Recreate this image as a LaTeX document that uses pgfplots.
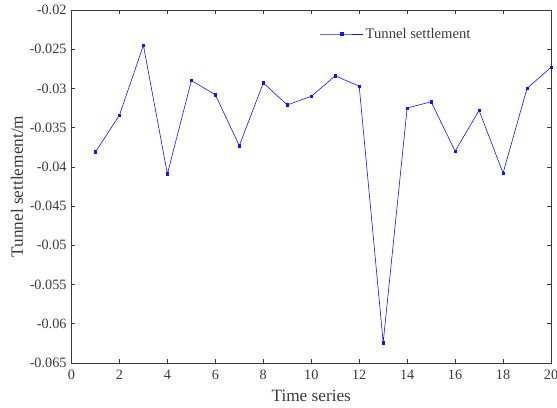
\documentclass[border=0pt]{standalone}
\usepackage{fontspec}
\setmainfont{Liberation Serif}
\usepackage{pgfplots}
\pgfplotsset{compat=1.18}
\usetikzlibrary{calc}
\definecolor{axgray}{HTML}{3A3A3A}
\definecolor{lineblue}{RGB}{20,20,240}

\begin{document}
\fontsize{14.3}{17}\selectfont
\begin{tikzpicture}
\begin{axis}[
  scale only axis, width=479.5bp, height=353bp,
  xmin=0, xmax=20, ymin=-0.065, ymax=-0.02,
  xtick={0,2,4,6,8,10,12,14,16,18,20},
  ytick={-0.065,-0.06,-0.055,-0.05,-0.045,-0.04,-0.035,-0.03,-0.025,-0.02},
  scaled y ticks=false,
  tick align=inside, major tick length=4bp,
  axis line style={axgray, line width=0.6bp},
  tick style={axgray, line width=0.6bp},
  ticklabel style={font=\fontsize{14.3}{17}\selectfont, text=axgray},
  /pgf/number format/assume math mode=true,
  yticklabel style={/pgf/number format/fixed, /pgf/number format/precision=3},
  xticklabel style={yshift=-2bp},
  xlabel={Time series}, ylabel={Tunnel settlement/m},
  label style={font=\fontsize{17.3}{20}\selectfont, text=axgray},
  xlabel style={yshift=-1bp},
  ylabel style={yshift=-3bp},
  legend style={draw=none, fill=none, inner sep=0pt,
    at={(rel axis cs:0.518,0.932)}, anchor=west,
    font=\fontsize{14.7}{17}\selectfont, text=axgray},
  legend image code/.code={%
    \draw[#1, mark repeat=2, mark phase=2] plot coordinates {(0bp,0bp) (21.5bp,0bp) (43bp,0bp)};},
]
\addplot[lineblue, line width=0.6bp, mark=square*, mark size=1.2bp,
  mark options={fill=lineblue, draw=lineblue}] coordinates {
  (1,-0.0381) (2,-0.0334) (3,-0.0245) (4,-0.0409) (5,-0.0290)
  (6,-0.0308) (7,-0.0373) (8,-0.0293) (9,-0.0321) (10,-0.0310)
  (11,-0.0284) (12,-0.0297) (13,-0.0624) (14,-0.0325) (15,-0.0317)
  (16,-0.0380) (17,-0.0328) (18,-0.0408) (19,-0.0300) (20,-0.0273)
};
\addlegendentry{Tunnel settlement}
\end{axis}
\pgfresetboundingbox
\path ($(current axis.south west)+(-71.5bp,-45bp)$) rectangle ($(current axis.north east)+(6bp,10bp)$);
\end{tikzpicture}
\end{document}
